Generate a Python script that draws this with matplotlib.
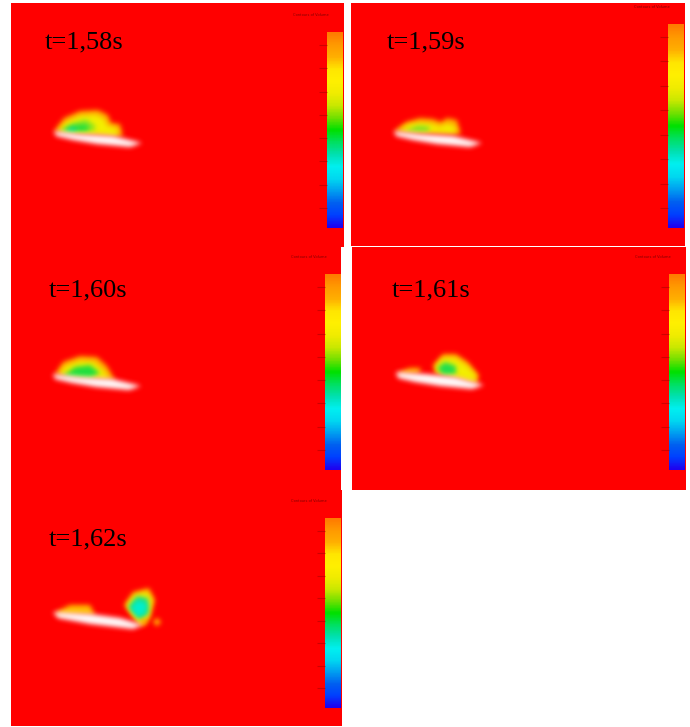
import numpy as np
from matplotlib import pyplot as plt
from matplotlib.colors import LinearSegmentedColormap

W, H = 690, 727

# panel boxes in image pixels: left, top, right, bottom
panel_boxes = [(11, 3, 344, 247), (351, 3, 685, 246), (11, 247, 341, 490),
               (352, 247, 686, 490), (11, 490, 342, 726)]
labels = ["t=1,58s", "t=1,59s", "t=1,60s", "t=1,61s", "t=1,62s"]
label_pos = [(45, 48), (387, 48), (49, 296), (392, 296), (49, 545)]
bar_x = [(327, 343), (668, 684), (325, 341), (669, 685), (325, 341)]
bar_y = [(32, 228), (24, 228), (274, 470), (274, 470), (518, 708)]

# colour bar levels, top to bottom
bar_colors = ["#ff7a00", "#ff9a00", "#ffb000", "#ffe600", "#fff000", "#f0ec00", "#c8e800", "#70e000",
              "#00e000", "#00e060", "#00e0b0", "#00f0f0", "#00d8f0", "#00a0f0", "#0060f0", "#0040ff", "#2000f0"]

# wing outlines
wing_1 = ([54, 80, 113, 142, 130, 97, 73, 56], [131, 134, 136, 143, 147, 144, 140, 136])
wing_2 = ([394, 420, 453, 482, 470, 437, 413, 396], [131, 134, 136, 143, 147, 144, 140, 136])
wing_3 = ([53, 79, 112, 141, 129, 96, 72, 55], [374, 377, 379, 386, 390, 387, 383, 379])
wing_4 = ([396, 425, 455, 484, 472, 440, 415, 398], [372, 374, 377, 385, 389, 386, 382, 378])
wing_5 = ([53, 90, 120, 143, 133, 90, 58], [612, 614, 618, 625, 629, 624, 618])

# contour blobs as (colour, xs, ys), painted in order
blobs_1 = [
    ("#ffb000", [54, 64, 80, 98, 108, 111, 120, 123, 90], [131, 118, 111, 110, 115, 123, 124, 136, 134]),
    ("#f4f000", [58, 67, 80, 96, 104, 107, 116, 119, 90], [131, 122, 116, 115, 119, 126, 128, 135, 133]),
    ("#90e820", [60, 72, 86, 96, 94], [131, 123, 119, 126, 131]),
    ("#20e040", [62, 73, 85, 90, 86], [131, 126, 124, 128, 131]),
    ("#00d8a0", [64, 72, 78, 74], [130, 127, 128, 131]),
]
blobs_2 = [
    ("#ffb000", [394, 406, 420, 433, 441, 447, 457, 461, 430], [131, 122, 118, 119, 122, 118, 120, 134, 133]),
    ("#f4f000", [398, 408, 420, 432, 440, 447, 454, 457, 430], [131, 125, 123, 124, 127, 124, 126, 133, 132]),
    ("#70e030", [405, 418, 430, 428], [131, 126, 127, 131]),
]
blobs_3 = [
    ("#ffb000", [55, 63, 80, 97, 107, 115, 90], [374, 362, 356, 357, 366, 380, 378]),
    ("#f4f000", [59, 66, 80, 94, 103, 109, 90], [374, 366, 361, 362, 370, 378, 376]),
    ("#20e040", [63, 75, 90, 100, 90], [376, 367, 365, 373, 378]),
]
blobs_4 = [
    ("#ffb000", [433, 443, 456, 468, 479, 477, 447, 435], [365, 354, 354, 362, 375, 384, 375, 373]),
    ("#f4f000", [436, 443, 455, 467, 476, 474, 447, 437], [366, 358, 358, 366, 376, 381, 374, 372]),
    ("#20e050", [437, 445, 456, 456, 443], [368, 362, 366, 374, 375]),
    ("#ffc000", [399, 410, 421, 419, 401], [372, 368, 368, 373, 374]),
]
blobs_5 = [
    ("#ffb000", [124, 133, 149, 155, 150, 141, 131], [605, 592, 588, 600, 619, 626, 615]),
    ("#f4f000", [127, 135, 147, 152, 148, 140, 133], [605, 595, 592, 600, 617, 623, 615]),
    ("#20e080", [128, 137, 148, 149, 140], [607, 596, 598, 613, 620]),
    ("#00f0d0", [131, 138, 147, 145, 138], [608, 600, 604, 613, 617]),
    ("#ffc000", [56, 70, 90, 95, 60], [612, 605, 605, 615, 615]),
    ("#ffd000", [153, 157, 161, 157], [622, 618, 622, 626]),
    ("#ffb000", [139, 144, 148, 144], [622, 618, 622, 626]),
]
wings = [wing_1, wing_2, wing_3, wing_4, wing_5]
blobs = [blobs_1, blobs_2, blobs_3, blobs_4, blobs_5]


def smooth(a):
    kernel = np.array([1, 2, 4, 7, 10, 13, 14, 13, 10, 7, 4, 2, 1], dtype=float)
    kernel = kernel / kernel.sum()
    for axis in (0, 1):
        a = np.apply_along_axis(lambda m: np.convolve(m, kernel, mode="same"), axis, a)
    return a


def blur(im, dpi):
    # soft edges, the reference is a low resolution screenshot
    # only alpha is blurred, else the edges go dark
    pad = 10
    out = np.pad(im, ((pad, pad), (pad, pad), (0, 0)))
    inside = out[..., 3] > 0.5
    color = out[inside][:, :3].mean(axis=0)
    out[..., :3] = color
    out[..., 3] = smooth(out[..., 3])
    return out, -pad, -pad


fig = plt.figure(figsize=(W / 100, H / 100), dpi=100, facecolor="white")
bar_cmap = LinearSegmentedColormap.from_list("bar", bar_colors)

for i, box in enumerate(panel_boxes):
    left, top, right, bottom = box
    ax = fig.add_axes([left / W, 1 - bottom / H, (right - left) / W, (bottom - top) / H])
    ax.set_facecolor("#ff0000")
    ax.set_xticks([])
    ax.set_yticks([])
    for s in ax.spines.values():
        s.set_visible(False)

    for color, xs, ys in blobs[i]:
        patch = ax.fill(xs, ys, color=color, lw=0, zorder=2)[0]
        patch.set_agg_filter(blur)
    patch = ax.fill(wings[i][0], wings[i][1], color="white", lw=0, zorder=3)[0]
    patch.set_agg_filter(blur)

    # colour bar
    x0, x1 = bar_x[i]
    y0, y1 = bar_y[i]
    levels = np.linspace(0, 1, 196).reshape(-1, 1)
    ax.imshow(levels, cmap=bar_cmap, extent=(x0, x1, y1, y0), aspect="auto", zorder=2)
    ax.set_xlim(left, right)
    ax.set_ylim(bottom, top)
    ticks = np.linspace(y0 + 13, y1 - 20, 8)
    ax.hlines(ticks, x0 - 8, x0, color="#b00000", lw=0.8, alpha=0.6, zorder=2)
    ax.text(x0 - 34, y0 - 17, "Contours of Volume", fontsize=2.6, color="#800000",
            va="center", zorder=4)

    ax.text(label_pos[i][0], label_pos[i][1], labels[i], family="Liberation Serif",
            fontsize=19, color="black", va="baseline", zorder=5)

fig.savefig("out.png", dpi=100)
